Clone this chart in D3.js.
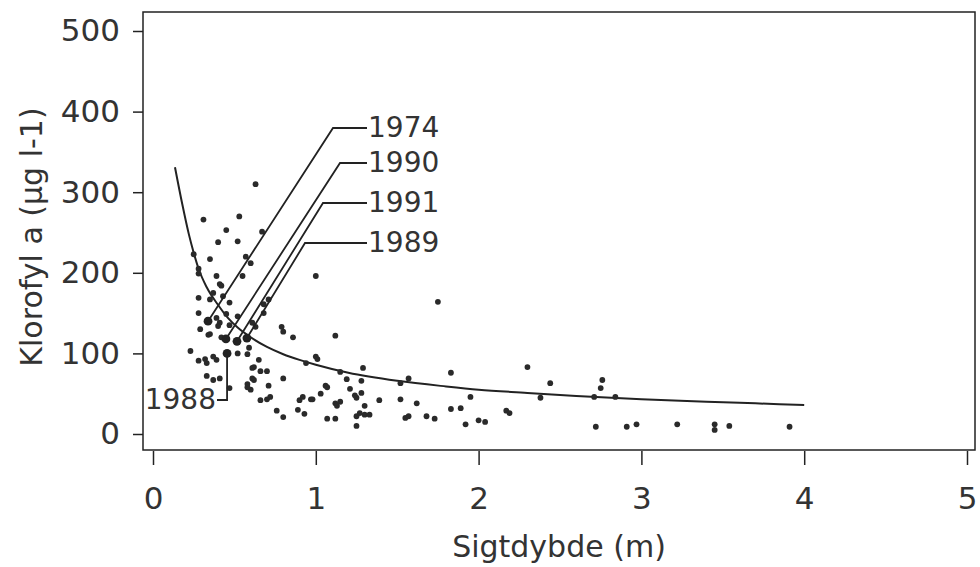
<!DOCTYPE html>
<html>
<head>
<meta charset="utf-8">
<script src="https://cdn.jsdelivr.net/npm/d3@7/dist/d3.min.js"></script>
<style>
  html, body { margin: 0; padding: 0; background: #fff; }
  svg { display: block; }
  text { font-family: "DejaVu Sans", sans-serif; fill: #333; }
</style>
</head>
<body>
<svg id="chart" width="980" height="567"></svg>
<script>
// ---- data ----
const xTicks = [0, 1, 2, 3, 4, 5];
const yTicks = [0, 100, 200, 300, 400, 500];
const xTitle = "Sigtdybde (m)";
const yTitle = "Klorofyl a (µg l-1)";

// fitted curve
const curveX = [0.135, 0.18, 0.22, 0.25, 0.28, 0.33, 0.40, 0.46, 0.52, 0.60, 0.70, 0.80, 0.90, 1.00, 1.20, 1.50, 1.80, 2.00, 2.30, 2.60, 3.00, 3.40, 3.70, 4.00];
const curveY = [331, 285, 248, 225, 205, 182, 160, 144, 132, 120, 108, 99, 92, 86, 76, 66, 59, 55, 51, 47, 43, 40, 38, 36];

// observations
const pointX = [0.63,0.31,0.53,0.45,0.67,0.52,0.40,0.25,0.35,0.57,0.60,0.28,0.28,0.39,0.55,1.00,0.41,0.42,0.37,0.43,0.28,0.35,0.47,0.68,0.71,
  0.28,0.39,0.41,0.40,0.45,0.47,0.52,0.29,0.35,0.34,0.42,0.61,0.63,0.68,0.23,0.28,0.32,0.33,0.37,0.39,0.52,0.59,0.58,0.65,0.62,0.61,0.66,0.70,0.61,0.62,0.80,0.33,0.37,0.41,0.58,0.60,0.58,0.71,0.47,0.66,0.70,0.72,0.76,0.80,0.79,0.80,0.86,1.01,1.00,0.94,1.06,1.03,0.97,0.98,0.90,0.92,0.89,0.93,1.07,1.12,1.12,1.12,1.13,
  1.75,1.29,1.15,1.19,1.28,1.57,1.83,2.30,2.44,1.52,1.07,1.21,1.28,1.24,1.25,1.15,1.30,1.39,1.52,1.62,1.95,2.38,1.25,1.27,1.30,1.33,1.25,1.55,1.57,1.68,1.73,1.83,1.89,1.92,2.00,2.04,2.17,2.19,
  2.76,2.75,2.71,2.84,2.72,2.91,2.97,3.22,3.45,3.45,3.54,3.91];
const pointY = [310,266,270,253,251,239,238,223,217,220,212,205,199,196,196,196,186,184,175,171,169,167,163,161,167,
  150,144,138,134,149,135,146,130,124,123,120,138,133,150,103,91,93,88,96,92,100,107,99,92,83,82,78,78,69,67,69,72,67,69,62,55,58,60,57,42,43,46,29,21,133,127,120,93,96,88,60,50,43,43,42,46,30,25,19,19,122,38,35,
  164,82,77,68,66,69,76,83,63,63,58,56,51,48,45,40,35,42,43,38,46,45,22,26,24,24,10,20,22,22,19,31,32,12,17,15,29,26,
  67,57,46,46,9,9,12,12,12,5,10,9];

// highlighted years
const yearLabels = ["1974", "1990", "1991", "1989", "1988"];
const yearX = [0.338, 0.448, 0.516, 0.577, 0.455];
const yearY = [140, 118, 115, 119, 100];

// ---- layout ----
const svg = d3.select("#chart");
const x = d3.scaleLinear().domain([0, 5]).range([153, 967]);
const y = d3.scaleLinear().domain([0, 500]).range([434, 31]);
const frame = { left: 143, right: 975, top: 12, bottom: 450 };
const ink = "#222";

// frame
svg.append("rect")
  .attr("x", frame.left).attr("y", frame.top)
  .attr("width", frame.right - frame.left).attr("height", frame.bottom - frame.top)
  .attr("fill", "none").attr("stroke", ink).attr("stroke-width", 1.5);

// axes
const gx = svg.append("g").attr("transform", `translate(0,${frame.bottom + 1})`)
  .call(d3.axisBottom(x).tickValues(xTicks).tickFormat(d3.format("d")).tickSize(14).tickSizeOuter(0).tickPadding(22));
gx.select(".domain").remove();
gx.selectAll(".tick line").attr("stroke", ink).attr("stroke-width", 1.5);
gx.selectAll(".tick text").attr("font-size", 31).attr("fill", "#333").attr("font-family", "DejaVu Sans");

const gy = svg.append("g").attr("transform", `translate(${frame.left},0)`)
  .call(d3.axisLeft(y).tickValues(yTicks).tickFormat(d3.format("d")).tickSize(10).tickSizeOuter(0).tickPadding(13));
gy.select(".domain").remove();
gy.selectAll(".tick line").attr("stroke", ink).attr("stroke-width", 1.5);
gy.selectAll(".tick text").attr("font-size", 31).attr("fill", "#333").attr("font-family", "DejaVu Sans");

// titles
svg.append("text").attr("x", 559).attr("y", 557).attr("text-anchor", "middle")
  .attr("font-size", 30).text(xTitle);
svg.append("text").attr("transform", "translate(42,237) rotate(-90)").attr("text-anchor", "middle")
  .attr("font-size", 30).text(yTitle);

// curve
const curveData = curveX.map((d, i) => [d, curveY[i]]);
svg.append("path").datum(curveData)
  .attr("d", d3.line().x(d => x(d[0])).y(d => y(d[1])).curve(d3.curveMonotoneX))
  .attr("fill", "none").attr("stroke", ink).attr("stroke-width", 2);

// points
svg.append("g").selectAll("circle").data(pointX.map((d, i) => [d, pointY[i]]))
  .join("circle")
  .attr("cx", d => x(d[0])).attr("cy", d => y(d[1])).attr("r", 2.9)
  .attr("fill", "#2a2a2a");

// year leaders (corner positions in px)
const leaderCorner = [[333, 128], [340, 163], [323, 203], [305, 243]];
const labelX = 368;
yearLabels.forEach((lab, i) => {
  const px = x(yearX[i]), py = y(yearY[i]);
  if (i < 4) {
    const [cx, cy] = leaderCorner[i];
    svg.append("path")
      .attr("d", `M${px},${py}L${cx},${cy}L${labelX - 1},${cy}`)
      .attr("fill", "none").attr("stroke", ink).attr("stroke-width", 1.8);
    svg.append("text").attr("x", labelX).attr("y", cy - 1).attr("dy", "0.36em")
      .attr("font-size", 28).text(lab);
  } else {
    svg.append("path")
      .attr("d", `M${px},${py}L${px},400L217,400`)
      .attr("fill", "none").attr("stroke", ink).attr("stroke-width", 1.8);
    svg.append("text").attr("x", 216).attr("y", 399).attr("dy", "0.36em")
      .attr("text-anchor", "end").attr("font-size", 28).text(lab);
  }
  svg.append("circle").attr("cx", px).attr("cy", py).attr("r", 4.4).attr("fill", "#222");
});
</script>
</body>
</html>
